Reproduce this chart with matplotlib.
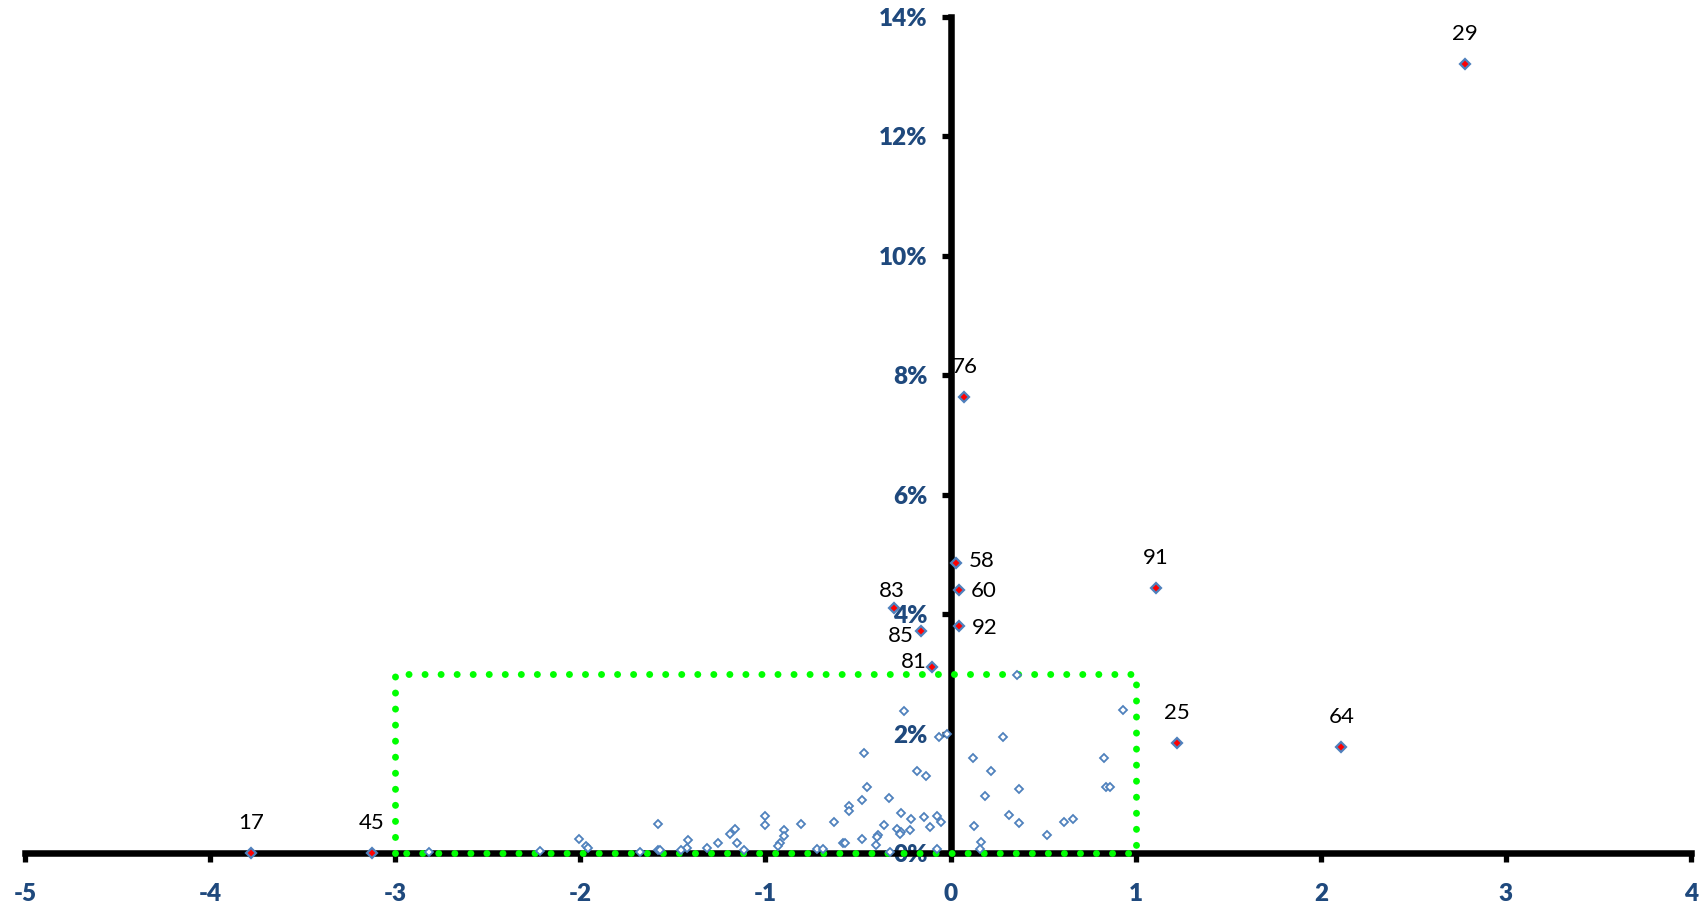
import matplotlib
matplotlib.use("Agg")
import matplotlib.pyplot as plt
from matplotlib.ticker import FuncFormatter

plt.rcParams['font.family'] = ['Lato', 'DejaVu Sans']
plt.rcParams['axes.unicode_minus'] = False

# all observations (x score, share in %)
x_vals = [-0.249, -0.02, -0.065, -0.47, -0.18, -0.13, -0.45, -0.48, -0.33, -0.546,
          -0.55, -0.27, -0.216, -0.146, -0.075, -0.05, -0.11, -0.22, -0.29, -0.27,
          -0.275, -0.36, -0.39, -0.40, -0.48, -0.405, -0.326, -0.075, -0.627, -0.81,
          -1.004, -1.0, -0.90, -0.90, -0.92, -0.93, -0.58, -0.57, -0.72, -0.69,
          -1.164, -1.19, -1.155, -1.117, -1.258, -1.315, -1.416, -1.423, -1.456, -1.58,
          -1.58, -1.57, -1.68, -2.007, -1.97, -1.96, -2.22, -2.82,
          0.358, 0.93, 0.286, 0.12, 0.83, 0.218, 0.838, 0.86, 0.368, 0.187,
          0.315, 0.368, 0.661, 0.612, 0.126, 0.52, 0.162, 0.157]
y_vals = [2.38, 1.99, 1.94, 1.68, 1.37, 1.29, 1.11, 0.88, 0.92, 0.79,
          0.70, 0.67, 0.57, 0.61, 0.62, 0.52, 0.43, 0.39, 0.40, 0.35,
          0.32, 0.47, 0.30, 0.27, 0.23, 0.13, 0.02, 0.07, 0.52, 0.48,
          0.62, 0.47, 0.39, 0.28, 0.17, 0.12, 0.16, 0.17, 0.07, 0.07,
          0.41, 0.32, 0.17, 0.05, 0.17, 0.09, 0.22, 0.09, 0.05, 0.49,
          0.05, 0.05, 0.02, 0.24, 0.11, 0.09, 0.04, 0.02,
          2.98, 2.40, 1.94, 1.59, 1.59, 1.37, 1.10, 1.10, 1.07, 0.95,
          0.64, 0.50, 0.57, 0.52, 0.45, 0.30, 0.19, 0.07]

# outliers with labels
out_ids = ['29', '76', '58', '60', '92', '83', '85', '81', '91', '25', '64', '17', '45']
out_x = [2.777, 0.075, 0.027, 0.045, 0.043, -0.308, -0.162, -0.101, 1.111, 1.223, 2.111, -3.78, -3.127]
out_y = [13.21, 7.63, 4.86, 4.41, 3.80, 4.10, 3.71, 3.11, 4.44, 1.85, 1.78, 0.0, 0.0]

# label offsets in points (default: above the point)
label_offsets = {'58': (19, 1.5), '60': (17.5, -1.2), '92': (19, -1.5),
                 '83': (-1.5, 12.5), '85': (-14.5, -3.6), '81': (-13, 3.6)}

# green dotted box
box_x = [-3, 1]
box_y = [0, 3]

x_ticks = list(range(-5, 5))
y_ticks = list(range(0, 15, 2))

blue = '#4F81BD'
navy = '#1F497D'

fig = plt.figure(figsize=(17.08, 9.05), dpi=100)
ax = fig.add_axes([25 / 1708, 1 - 853 / 905, (1691 - 25) / 1708, (853 - 17) / 905])

ax.set_xlim(-5, 4)
ax.set_ylim(0, 14)

for s in ['top', 'right']:
    ax.spines[s].set_visible(False)
ax.spines['left'].set_position(('data', 0))
ax.spines['bottom'].set_position(('data', 0))
for s in ['left', 'bottom']:
    ax.spines[s].set_linewidth(4.7)
    ax.spines[s].set_color('black')
    ax.spines[s].set_zorder(2)

ax.set_xticks(x_ticks)
ax.set_yticks(y_ticks)
ax.yaxis.set_major_formatter(FuncFormatter(lambda v, p: f"{v:.0f}%"))
ax.tick_params(axis='both', direction='out', length=6.5, width=3.8, color='black',
               labelsize=17.5, labelcolor=navy)
ax.tick_params(axis='x', pad=15)
ax.tick_params(axis='y', pad=10)
for lab in ax.get_xticklabels() + ax.get_yticklabels():
    lab.set_fontweight('heavy')

# dotted rectangle
ax.plot([box_x[0], box_x[0], box_x[1], box_x[1], box_x[0]],
        [box_y[0], box_y[1], box_y[1], box_y[0], box_y[0]],
        color='#00FF00', lw=5, linestyle=(0, (0.01, 2.3)), dash_capstyle='round',
        clip_on=False, zorder=3)

ax.plot(x_vals + out_x, y_vals + out_y, linestyle='none', marker='D', ms=4.4,
        mfc='white', mec=blue, mew=1.3, clip_on=False, zorder=4)
ax.plot(out_x, out_y, linestyle='none', marker='D', ms=5.6,
        mfc='red', mec=blue, mew=1.6, clip_on=False, zorder=5)

for name, xv, yv in zip(out_ids, out_x, out_y):
    dx, dy = label_offsets.get(name, (0, 21.6))
    ax.annotate(name, (xv, yv), xytext=(dx, dy), textcoords='offset points',
                ha='center', va='center', fontsize=16, color='black',
                annotation_clip=False, zorder=6)

fig.savefig('out.png', dpi=100)
